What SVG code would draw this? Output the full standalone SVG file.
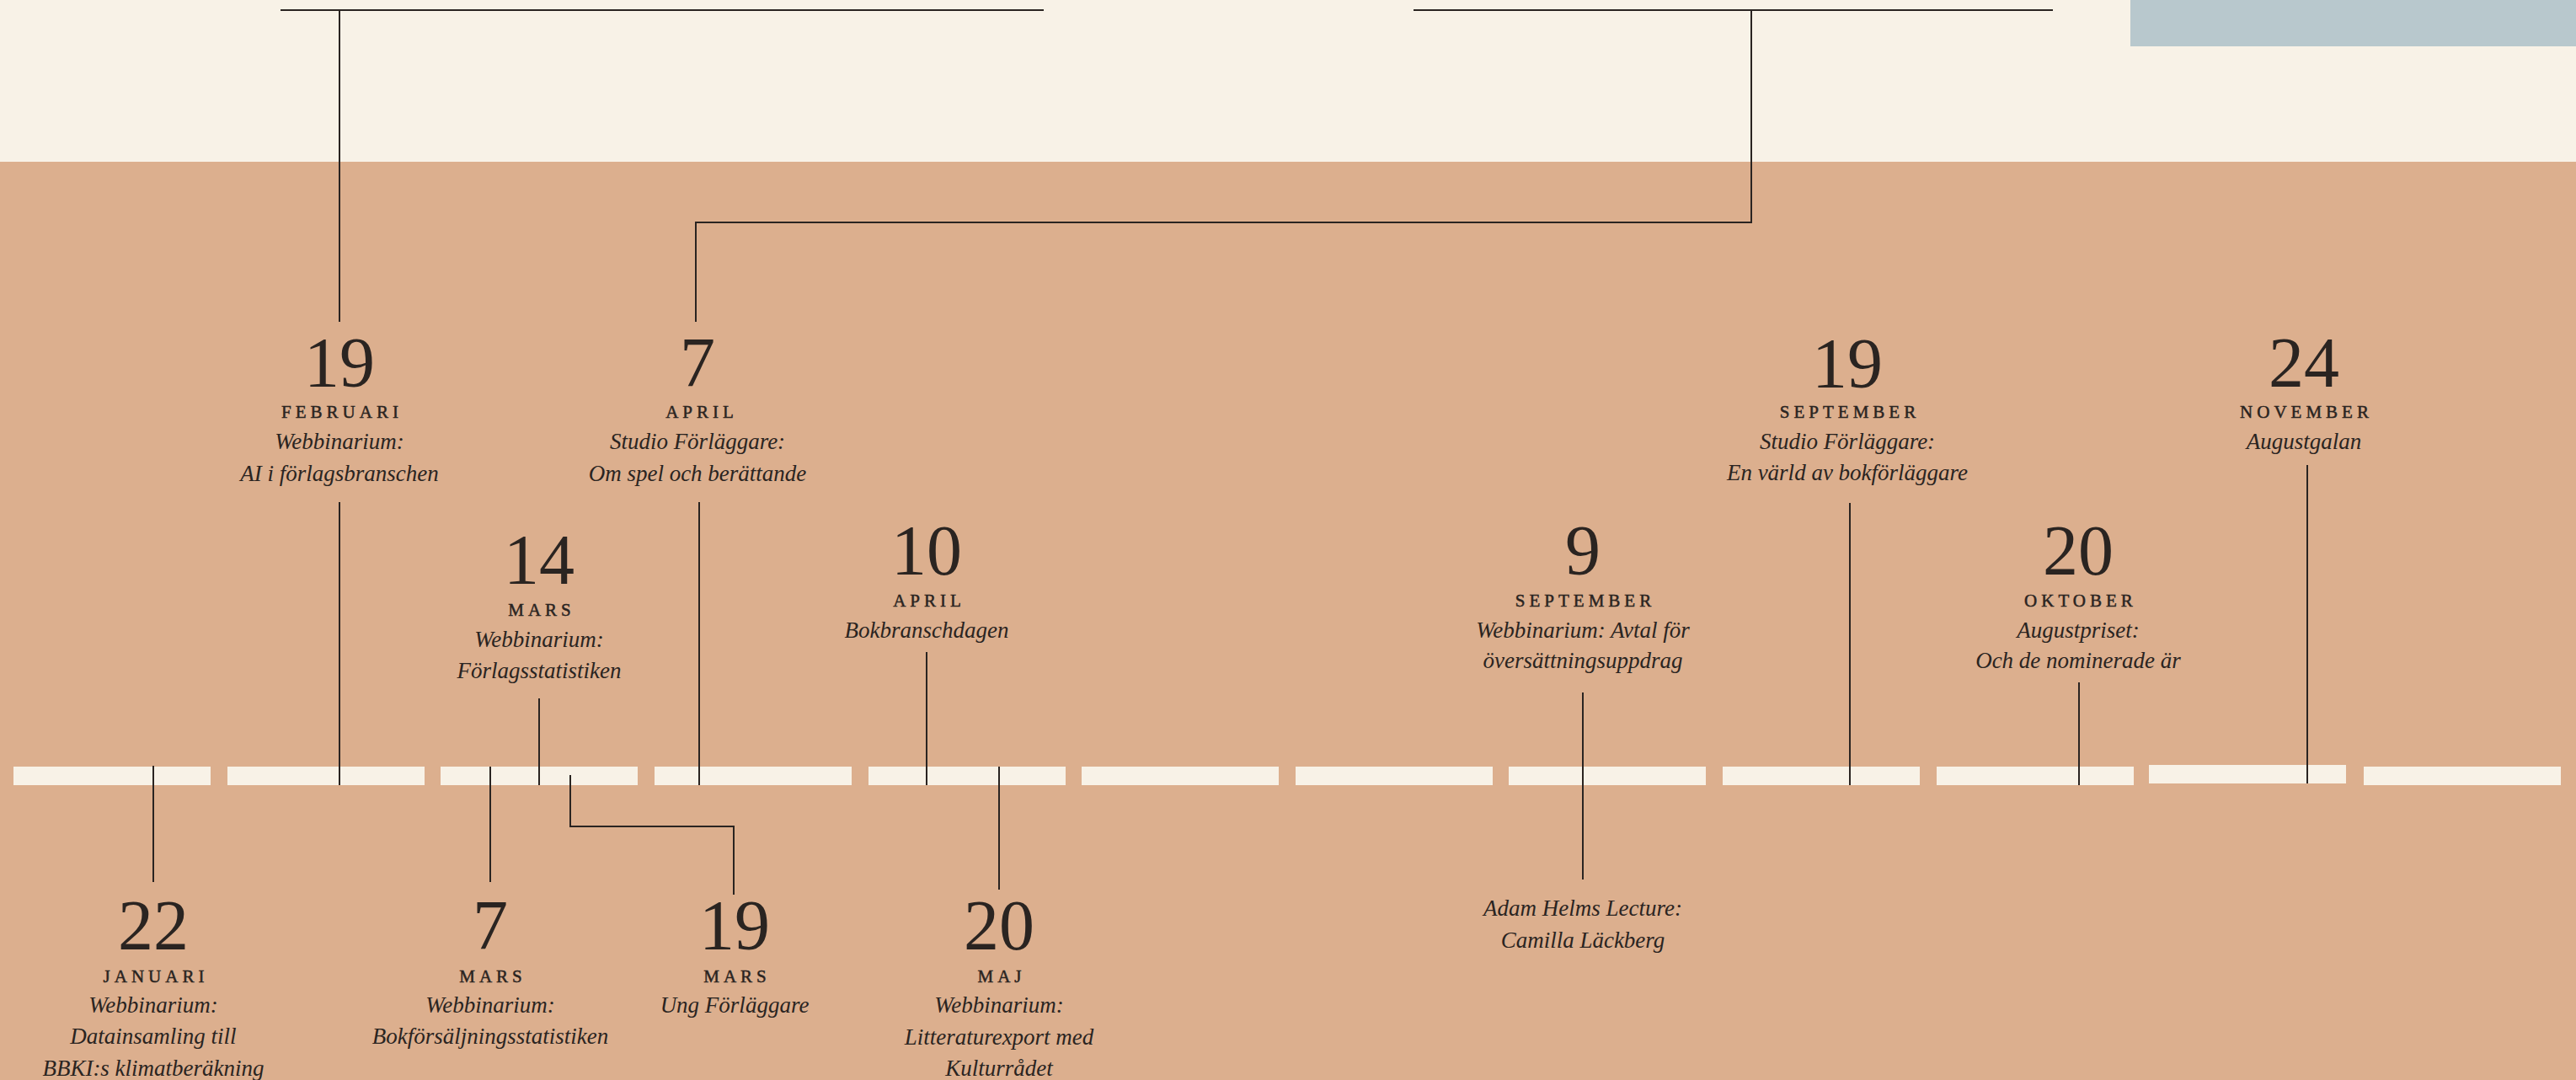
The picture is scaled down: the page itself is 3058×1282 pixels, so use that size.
<svg xmlns="http://www.w3.org/2000/svg" width="3058" height="1282" viewBox="0 0 3058 1282">
<style>
text{font-family:"Liberation Serif","DejaVu Serif",serif;fill:#2A2421;text-anchor:middle}
.num{font-size:84px}
.mon{font-size:21px;letter-spacing:5px;stroke:#2A2421;stroke-width:0.5}
.it{font-size:27px;font-style:italic}
.bar{fill:#F8F2E7}
.ln{fill:none;stroke:#2A2421;stroke-width:2}
</style>
<rect x="0" y="0" width="3058" height="1282" fill="#DCAF8E"/>
<rect x="0" y="0" width="3058" height="192" fill="#F8F2E7"/>
<rect x="2529" y="0" width="529" height="55" fill="#B8C8CD"/>
<g id="timeline">
<rect class="bar" x="16" y="910" width="234" height="22"/>
<rect class="bar" x="270" y="910" width="234" height="22"/>
<rect class="bar" x="523" y="910" width="234" height="22"/>
<rect class="bar" x="777" y="910" width="234" height="22"/>
<rect class="bar" x="1031" y="910" width="234" height="22"/>
<rect class="bar" x="1284" y="910" width="234" height="22"/>
<rect class="bar" x="1538" y="910" width="234" height="22"/>
<rect class="bar" x="1791" y="910" width="234" height="22"/>
<rect class="bar" x="2045" y="910" width="234" height="22"/>
<rect class="bar" x="2299" y="910" width="234" height="22"/>
<rect class="bar" x="2551" y="908" width="234" height="22"/>
<rect class="bar" x="2806" y="910" width="234" height="22"/>
</g>
<g id="connectors">
<path class="ln" d="M333 12H1239"/>
<path class="ln" d="M1678 12H2437"/>
<path class="ln" d="M403 12V382"/>
<path class="ln" d="M2079 12V264H826V382"/>
<path class="ln" d="M403 596V932"/>
<path class="ln" d="M830 596V932"/>
<path class="ln" d="M640 829V932"/>
<path class="ln" d="M1100 774V932"/>
<path class="ln" d="M1879 822V1044"/>
<path class="ln" d="M2196 597V932"/>
<path class="ln" d="M2468 810V932"/>
<path class="ln" d="M2739 552V930"/>
<path class="ln" d="M182 909V1047"/>
<path class="ln" d="M582 910V1047"/>
<path class="ln" d="M677 920V981H871V1062"/>
<path class="ln" d="M1186 910V1056"/>
</g>
<g id="feb19">
<text class="num" x="403" y="459">19</text>
<text class="mon" x="406" y="496">FEBRUARI</text>
<text class="it" x="403" y="533">Webbinarium:</text>
<text class="it" x="403" y="571">AI i förlagsbranschen</text>
</g>
<g id="apr7">
<text class="num" x="828" y="459">7</text>
<text class="mon" x="833" y="496">APRIL</text>
<text class="it" x="828" y="533">Studio Förläggare:</text>
<text class="it" x="828" y="571">Om spel och berättande</text>
</g>
<g id="mar14">
<text class="num" x="640" y="693">14</text>
<text class="mon" x="643" y="731">MARS</text>
<text class="it" x="640" y="768">Webbinarium:</text>
<text class="it" x="640" y="805">Förlagsstatistiken</text>
</g>
<g id="apr10">
<text class="num" x="1100" y="682">10</text>
<text class="mon" x="1103" y="720">APRIL</text>
<text class="it" x="1100" y="757">Bokbranschdagen</text>
</g>
<g id="sep9">
<text class="num" x="1879" y="682">9</text>
<text class="mon" x="1882" y="720">SEPTEMBER</text>
<text class="it" x="1879" y="757">Webbinarium: Avtal för</text>
<text class="it" x="1879" y="793">översättningsuppdrag</text>
</g>
<g id="sep9-lecture">
<text class="it" x="1879" y="1087">Adam Helms Lecture:</text>
<text class="it" x="1879" y="1125">Camilla Läckberg</text>
</g>
<g id="sep19">
<text class="num" x="2193" y="460">19</text>
<text class="mon" x="2196" y="496">SEPTEMBER</text>
<text class="it" x="2193" y="533">Studio Förläggare:</text>
<text class="it" x="2193" y="570">En värld av bokförläggare</text>
</g>
<g id="okt20">
<text class="num" x="2467" y="682">20</text>
<text class="mon" x="2470" y="720">OKTOBER</text>
<text class="it" x="2467" y="757">Augustpriset:</text>
<text class="it" x="2467" y="793">Och de nominerade är</text>
</g>
<g id="nov24">
<text class="num" x="2735" y="459">24</text>
<text class="mon" x="2738" y="496">NOVEMBER</text>
<text class="it" x="2735" y="533">Augustgalan</text>
</g>
<g id="jan22">
<text class="num" x="182" y="1127">22</text>
<text class="mon" x="185" y="1166">JANUARI</text>
<text class="it" x="182" y="1202">Webbinarium:</text>
<text class="it" x="182" y="1239">Datainsamling till</text>
<text class="it" x="182" y="1277">BBKI:s klimatberäkning</text>
</g>
<g id="mar7">
<text class="num" x="582" y="1127">7</text>
<text class="mon" x="585" y="1166">MARS</text>
<text class="it" x="582" y="1202">Webbinarium:</text>
<text class="it" x="582" y="1239">Bokförsäljningsstatistiken</text>
</g>
<g id="mar19">
<text class="num" x="872" y="1127">19</text>
<text class="mon" x="875" y="1166">MARS</text>
<text class="it" x="872" y="1202">Ung Förläggare</text>
</g>
<g id="maj20">
<text class="num" x="1186" y="1127">20</text>
<text class="mon" x="1189" y="1166">MAJ</text>
<text class="it" x="1186" y="1202">Webbinarium:</text>
<text class="it" x="1186" y="1240">Litteraturexport med</text>
<text class="it" x="1186" y="1277">Kulturrådet</text>
</g>
</svg>
